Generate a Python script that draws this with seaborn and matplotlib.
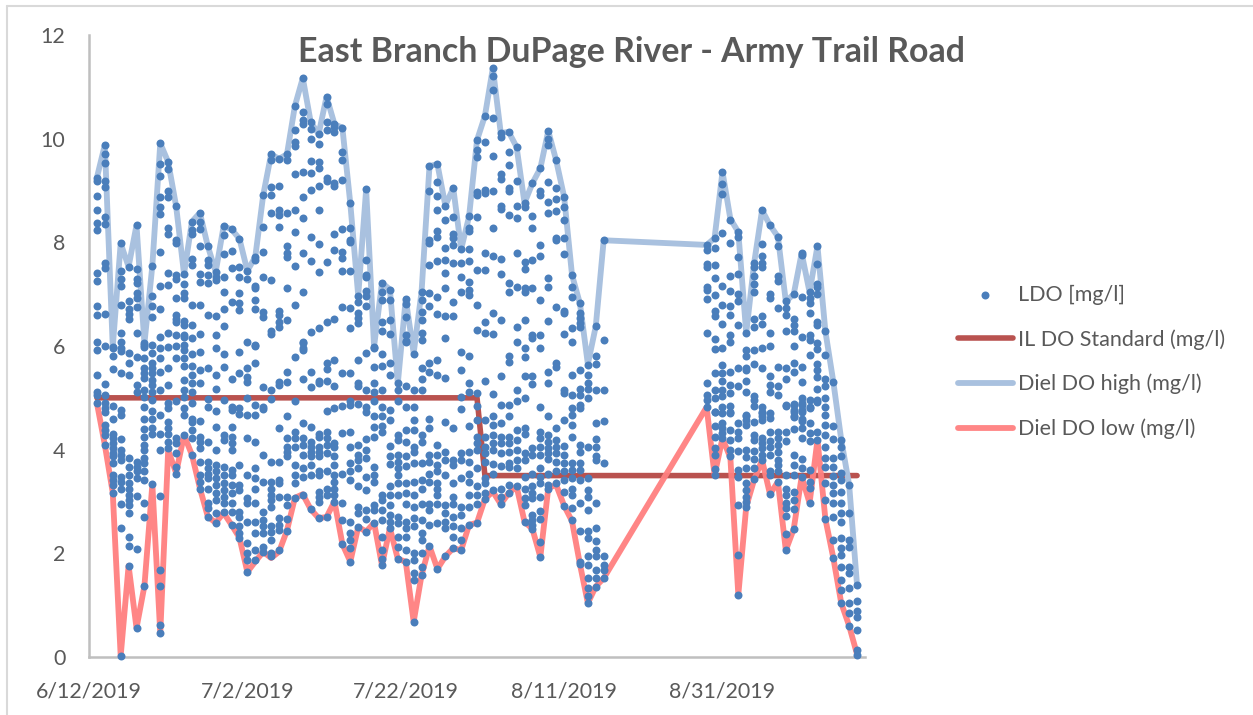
import datetime as dt

import matplotlib

matplotlib.use("Agg")
import matplotlib.dates as mdates
import matplotlib.pyplot as plt
import pandas as pd
import seaborn as sns

TITLE = "East Branch DuPage River - Army Trail Road"
START = dt.date(2019, 6, 12)
END = dt.date(2019, 9, 18)
TICK_DATES = [dt.date(2019, 6, 12), dt.date(2019, 7, 2), dt.date(2019, 7, 22), dt.date(2019, 8, 11), dt.date(2019, 8, 31)]

# days since 6/12/2019, the logger was out between 8/16 and 8/29
days = list(range(1, 66)) + list(range(78, 98))

diel_high = [
    9.25, 9.88, 5.98, 7.98, 7.53, 8.33, 6.05, 7.55, 9.91, 9.55, 8.70, 7.39, 8.40, 8.57, 7.93, 7.43, 8.31, 8.25, 8.07, 7.45,
    7.72, 8.91, 9.70, 9.61, 9.70, 10.63, 11.17, 10.32, 10.09, 10.81, 10.28, 10.21, 8.75, 6.97, 9.02, 5.99, 7.22, 7.09, 5.28, 6.91,
    5.86, 7.05, 9.47, 9.51, 8.71, 9.05, 7.87, 8.50, 9.97, 10.44, 11.36, 10.11, 10.13, 9.84, 8.76, 9.14, 9.43, 10.15, 9.58, 8.88,
    7.37, 6.82, 5.65, 6.38, 8.04,
    7.95, 8.08, 9.36, 8.45, 8.20, 6.25, 7.60, 8.62, 8.33, 8.11, 6.86, 7.00, 7.79, 7.04, 7.93, 6.28, 5.31, 4.19, 3.32, 1.38,
]
diel_low = [
    4.90, 4.09, 3.17, 0.02, 1.76, 0.56, 1.37, 3.33, 0.46, 3.99, 3.55, 4.28, 3.90, 3.26, 2.71, 2.59, 2.78, 2.55, 2.30, 1.64,
    1.84, 2.03, 1.91, 2.03, 2.44, 3.07, 3.14, 2.85, 2.68, 2.70, 3.00, 2.18, 1.84, 2.51, 2.42, 2.59, 1.77, 2.49, 1.89, 1.84,
    0.68, 1.58, 2.14, 1.70, 1.94, 2.10, 2.06, 2.55, 2.59, 3.05, 3.19, 2.95, 3.16, 3.29, 2.61, 2.47, 1.93, 3.26, 3.32, 2.92,
    2.62, 1.79, 1.04, 1.36, 1.52,
    4.82, 3.51, 4.22, 3.84, 1.20, 2.90, 3.42, 3.80, 3.14, 3.38, 2.06, 2.47, 3.48, 2.97, 4.19, 2.66, 1.91, 1.04, 0.60, 0.05,
]
standard_days = [1, 49, 50, 97]
standard_values = [5.0, 5.0, 3.5, 3.5]

# logger readings, one list per entry of days
ldo = [
    [9.25, 9.18, 8.9, 8.62, 8.37, 8.23, 7.4, 7.26, 6.78, 6.59, 6.08, 5.93, 5.44, 5.12, 5.05, 4.9],
    [9.88, 9.7, 9.54, 9.19, 9.06, 8.48, 8.36, 7.61, 7.5, 6.62, 6.0, 5.27, 5.05, 4.9, 4.8, 4.73, 4.48, 4.38, 4.28, 4.09],
    [5.99, 5.97, 5.8, 5.55, 4.84, 4.6, 4.31, 4.22, 4.12, 4.03, 3.93, 3.87, 3.74, 3.51, 3.42, 3.32, 3.17],
    [7.99, 7.44, 7.29, 7.16, 6.8, 6.26, 6.07, 5.96, 5.9, 5.47, 4.76, 4.67, 4.21, 4.0, 3.9, 3.8, 3.48, 3.38, 3.25, 2.96, 2.48, 0.02],
    [7.53, 6.86, 6.71, 6.62, 6.53, 5.86, 5.68, 5.45, 3.83, 3.66, 3.51, 3.35, 3.25, 3.13, 3.03, 2.93, 2.77, 2.32, 2.14, 1.76],
    [8.33, 7.48, 7.29, 7.21, 7.02, 6.92, 6.76, 6.26, 5.78, 5.25, 5.12, 3.77, 3.67, 3.58, 3.45, 3.11, 2.08, 0.55],
    [6.05, 5.99, 6.02, 5.76, 5.57, 5.47, 5.38, 5.15, 5.02, 4.83, 4.6, 4.39, 4.25, 4.09, 3.99, 3.83, 3.74, 3.58, 3.42, 2.97, 2.71, 1.37],
    [7.55, 6.97, 6.77, 6.55, 6.02, 5.87, 5.67, 5.57, 5.47, 5.34, 5.25, 5.12, 4.96, 4.75, 4.59, 4.41, 4.31, 3.33],
    [9.91, 9.51, 9.28, 8.87, 8.69, 8.55, 7.81, 7.15, 6.72, 6.17, 5.96, 5.76, 5.49, 5.16, 4.67, 4.31, 3.99, 3.11, 1.68, 1.37, 0.62, 0.46],
    [9.55, 9.42, 9.0, 8.88, 8.27, 8.17, 7.4, 7.18, 6.26, 5.98, 5.57, 5.25, 4.9, 4.8, 4.54, 4.41, 4.31, 4.15, 4.03],
    [8.7, 8.05, 7.98, 7.37, 7.29, 6.92, 6.6, 6.53, 6.47, 6.22, 6.0, 5.76, 4.93, 4.22, 4.12, 3.93, 3.67, 3.54],
    [7.39, 7.19, 7.03, 6.92, 6.48, 6.41, 6.22, 6.17, 6.02, 5.92, 5.76, 5.61, 5.34, 5.16, 5.01, 4.8, 4.67, 4.28],
    [8.4, 8.24, 8.16, 7.67, 7.56, 6.79, 6.41, 6.15, 5.85, 5.61, 5.44, 5.28, 5.12, 4.9, 4.6, 4.54, 4.38, 4.22, 3.9],
    [8.57, 8.4, 8.26, 7.92, 7.39, 7.24, 6.79, 6.23, 5.88, 5.54, 5.28, 4.55, 4.25, 4.15, 4.03, 3.77, 3.51, 3.38, 3.25],
    [7.93, 7.66, 7.56, 7.37, 7.22, 6.6, 5.57, 4.97, 4.83, 4.15, 3.77, 3.64, 3.54, 3.45, 3.25, 2.97, 2.87, 2.71],
    [7.43, 7.34, 7.27, 6.57, 6.21, 5.97, 5.44, 5.18, 4.75, 4.44, 3.99, 3.7, 3.58, 3.45, 3.32, 3.16, 3.03, 2.77, 2.59],
    [8.31, 8.14, 7.77, 7.33, 7.04, 6.72, 6.39, 5.84, 5.59, 4.96, 4.28, 4.19, 3.67, 3.51, 3.35, 3.22, 3.09, 2.97, 2.8],
    [8.25, 7.83, 7.5, 6.84, 5.36, 4.83, 4.77, 4.44, 4.25, 4.12, 3.99, 3.61, 3.51, 3.32, 3.16, 2.97, 2.8, 2.55],
    [8.07, 7.53, 7.33, 7.02, 6.82, 6.7, 5.88, 5.47, 4.8, 4.69, 3.7, 3.32, 3.22, 2.8, 2.71, 2.52, 2.39, 2.29],
    [7.45, 7.29, 6.08, 5.57, 5.41, 5.31, 4.99, 4.67, 4.22, 3.51, 3.06, 2.97, 2.61, 2.2, 2.0, 1.87, 1.64],
    [7.72, 7.66, 7.15, 7.11, 6.88, 6.72, 6.02, 6.0, 5.67, 4.86, 4.67, 4.15, 3.64, 3.45, 3.25, 2.97, 2.61, 2.39, 2.07, 1.87],
    [8.91, 8.3, 7.81, 7.34, 6.66, 6.56, 5.2, 4.83, 4.78, 3.9, 3.38, 2.8, 2.64, 2.52, 2.4, 2.13, 2.03],
    [9.7, 9.59, 9.06, 8.91, 8.57, 7.27, 6.28, 6.23, 5.16, 4.97, 3.77, 3.38, 3.25, 3.13, 3.03, 2.9, 2.52, 2.42, 2.26, 2.0, 1.94],
    [9.61, 9.09, 8.62, 8.53, 8.29, 6.68, 6.6, 6.47, 6.37, 5.31, 5.25, 4.41, 3.77, 3.41, 3.35, 3.09, 2.68, 2.55, 2.45, 2.07],
    [9.7, 9.59, 8.56, 7.92, 7.79, 7.71, 7.11, 6.5, 5.49, 5.31, 4.64, 4.22, 4.06, 3.96, 3.88, 3.09, 2.93, 2.66, 2.44],
    [10.63, 10.16, 9.94, 9.86, 9.32, 8.62, 8.19, 7.55, 6.79, 5.78, 4.94, 4.35, 4.22, 4.06, 3.71, 3.51, 3.35, 3.07],
    [11.17, 10.52, 10.36, 10.28, 9.36, 8.88, 8.46, 7.8, 7.05, 6.07, 5.96, 6.05, 5.92, 5.36, 4.51, 4.22, 4.09, 3.9, 3.64, 3.48, 3.13],
    [10.32, 10.19, 9.99, 9.57, 9.33, 9.01, 8.1, 7.64, 6.27, 5.49, 5.2, 4.43, 4.15, 4.06, 3.96, 3.87, 3.7, 3.51, 2.85],
    [10.09, 9.89, 9.55, 9.43, 9.09, 8.62, 7.96, 7.42, 6.34, 5.33, 5.28, 4.31, 4.25, 4.06, 3.96, 3.87, 3.58, 3.51, 3.19, 3.09, 3.0, 2.68],
    [10.81, 10.67, 10.33, 10.17, 9.24, 9.19, 7.62, 6.47, 5.68, 5.56, 5.33, 4.75, 4.35, 4.22, 4.09, 3.93, 3.58, 3.25, 3.13, 2.71],
    [10.28, 10.22, 10.12, 9.14, 9.09, 8.16, 7.85, 6.53, 5.73, 5.23, 4.81, 4.12, 4.06, 3.87, 3.7, 3.51, 3.38, 3.25, 3.13, 3.0],
    [10.21, 9.74, 9.58, 9.2, 8.26, 7.81, 7.69, 7.45, 6.76, 5.47, 4.84, 4.33, 3.54, 2.97, 2.64, 2.18],
    [8.75, 8.27, 8.05, 8.01, 7.44, 6.74, 6.34, 5.47, 4.93, 4.86, 4.35, 4.06, 3.74, 3.58, 3.42, 2.61, 2.39, 2.26, 2.1, 1.84],
    [6.97, 6.84, 6.63, 6.54, 6.44, 5.73, 5.28, 5.22, 4.88, 4.09, 3.9, 3.8, 3.64, 3.29, 2.9, 2.77, 2.51],
    [9.02, 7.66, 7.37, 7.34, 7.07, 6.97, 6.77, 5.87, 5.15, 4.83, 4.73, 4.2, 3.99, 3.83, 3.48, 3.22, 2.84, 2.67, 2.42],
    [5.99, 5.97, 5.6, 5.29, 5.12, 4.93, 4.64, 4.44, 4.25, 3.67, 3.51, 3.38, 2.93, 2.84, 2.59],
    [7.22, 7.05, 6.89, 6.46, 6.29, 5.85, 5.61, 5.16, 4.83, 4.65, 4.46, 4.35, 3.13, 3.03, 2.84, 2.64, 2.32, 2.07, 1.9, 1.77],
    [7.09, 6.89, 6.5, 6.23, 5.67, 5.44, 4.77, 4.57, 4.08, 3.88, 3.72, 3.29, 3.13, 2.93, 2.74, 2.61, 2.49],
    [5.28, 5.15, 4.93, 4.28, 4.19, 3.9, 3.77, 3.64, 3.51, 3.35, 3.13, 2.71, 2.58, 2.32, 2.13, 1.9],
    [6.91, 6.81, 6.55, 6.21, 6.09, 6.08, 5.22, 4.83, 4.38, 4.15, 3.87, 3.69, 3.35, 3.16, 2.96, 2.61, 2.48, 2.32, 2.07, 1.84],
    [5.85, 5.15, 4.83, 4.57, 4.38, 4.06, 3.96, 3.74, 3.38, 3.13, 2.9, 2.68, 2.52, 2.0, 1.87, 1.62, 1.49, 0.68],
    [7.05, 6.89, 6.66, 6.5, 6.25, 6.12, 5.57, 5.36, 5.15, 4.28, 4.15, 3.74, 3.41, 3.25, 2.96, 2.64, 2.39, 2.26, 2.0, 1.74, 1.58],
    [9.47, 8.99, 8.05, 7.99, 7.56, 7.02, 6.77, 5.68, 5.49, 4.6, 4.41, 3.9, 3.77, 3.54, 3.38, 2.96, 2.84, 2.55, 2.14],
    [9.51, 9.16, 8.9, 8.62, 8.21, 8.11, 7.64, 6.95, 6.62, 5.73, 5.44, 4.09, 3.9, 3.7, 3.58, 3.35, 3.25, 3.13, 2.96, 2.58, 1.7],
    [8.71, 8.43, 7.89, 7.66, 7.4, 7.11, 6.57, 6.16, 5.39, 4.54, 3.96, 3.8, 3.51, 2.93, 2.77, 2.61, 2.48, 1.94],
    [9.05, 8.48, 8.17, 8.08, 7.95, 7.61, 6.84, 6.57, 4.41, 3.8, 3.7, 3.35, 3.09, 2.96, 2.71, 2.52, 2.32, 2.1],
    [7.87, 7.6, 7.33, 7.05, 5.88, 5.54, 5.02, 4.78, 3.93, 3.8, 3.45, 2.9, 2.74, 2.48, 2.26, 2.06],
    [8.5, 8.27, 8.21, 7.88, 7.64, 7.23, 7.08, 6.98, 5.81, 5.28, 5.12, 4.46, 3.96, 3.77, 3.54, 3.38, 3.13, 2.9, 2.55],
    [9.97, 9.78, 9.65, 8.98, 8.91, 8.48, 7.47, 6.79, 6.31, 5.09, 4.84, 4.57, 4.25, 4.12, 3.99, 3.64, 3.29, 3.13, 2.96, 2.59],
    [10.44, 9.94, 9.01, 8.95, 7.8, 7.47, 6.46, 6.25, 5.33, 4.57, 4.25, 4.06, 3.93, 3.77, 3.45, 3.35, 3.16, 3.05],
    [11.36, 11.2, 10.93, 10.39, 9.67, 9.0, 8.27, 7.74, 6.63, 6.23, 5.07, 4.64, 4.48, 4.28, 4.12, 3.99, 3.72, 3.54, 3.22],
    [10.11, 10.04, 9.32, 9.22, 8.7, 8.65, 7.67, 7.39, 6.5, 5.43, 4.86, 4.51, 4.25, 4.12, 3.93, 3.69, 3.25, 3.09, 2.95],
    [10.13, 9.75, 9.5, 9.04, 9.0, 8.52, 7.21, 7.05, 5.81, 5.7, 4.86, 4.65, 4.25, 4.12, 3.96, 3.74, 3.67, 3.32, 3.16],
    [9.84, 9.18, 8.7, 8.46, 7.8, 7.13, 6.37, 6.08, 5.15, 4.93, 4.37, 4.19, 3.99, 3.8, 3.64, 3.29],
    [8.76, 8.69, 7.63, 7.48, 7.11, 7.05, 6.5, 5.96, 5.78, 5.43, 4.99, 4.41, 4.31, 3.93, 3.8, 3.48, 3.25, 3.06, 2.93, 2.61],
    [9.14, 8.5, 8.27, 7.66, 7.11, 6.21, 6.15, 5.43, 5.26, 4.03, 3.9, 3.54, 3.29, 3.16, 3.06, 2.74, 2.64, 2.55, 2.47],
    [9.43, 9.0, 8.91, 7.95, 7.74, 6.88, 6.21, 5.96, 4.83, 4.35, 4.22, 4.06, 3.9, 3.64, 3.48, 3.35, 3.08, 2.82, 2.66, 2.21, 1.93],
    [10.15, 10.0, 9.87, 9.17, 8.77, 8.57, 7.31, 7.13, 6.48, 5.5, 5.28, 4.65, 4.28, 4.15, 4.03, 3.93, 3.82, 3.54, 3.32, 3.25],
    [9.58, 9.04, 8.83, 8.6, 8.08, 8.05, 6.76, 5.68, 5.6, 4.41, 4.19, 4.06, 3.93, 3.77, 3.58, 3.35],
    [8.88, 8.68, 8.43, 8.08, 7.77, 6.68, 6.63, 6.23, 5.15, 5.09, 4.57, 4.08, 3.9, 3.74, 3.58, 3.41, 3.19, 2.92],
    [7.37, 7.13, 6.94, 6.34, 6.08, 5.45, 5.05, 4.8, 4.67, 4.48, 4.25, 3.74, 3.61, 3.45, 3.25, 3.13, 2.88, 2.64],
    [6.82, 6.63, 6.54, 6.44, 6.36, 5.54, 5.18, 5.05, 4.86, 4.8, 4.09, 3.96, 3.74, 3.61, 3.41, 2.97, 2.44, 1.84, 1.79],
    [5.63, 5.44, 5.28, 5.18, 4.99, 4.06, 3.45, 3.22, 3.09, 2.84, 2.44, 2.29, 1.94, 1.78, 1.52, 1.33, 1.17, 1.04],
    [6.38, 5.81, 5.65, 5.15, 4.52, 4.21, 4.06, 3.87, 3.8, 2.97, 2.48, 2.23, 2.07, 1.94, 1.68, 1.52, 1.36],
    [8.04, 6.11, 5.15, 4.55, 3.75, 1.94, 1.78, 1.68, 1.52],
    [7.95, 7.85, 7.59, 7.52, 7.14, 7.09, 6.9, 6.26, 5.29, 5.05, 4.96, 4.83],
    [8.08, 7.9, 7.56, 7.32, 6.98, 6.67, 6.58, 6.13, 5.94, 5.47, 5.15, 4.99, 4.73, 4.72, 4.45, 4.24, 4.03, 3.9, 3.62, 3.51],
    [9.36, 9.13, 8.94, 8.18, 7.16, 6.8, 6.42, 5.97, 5.63, 5.47, 5.33, 5.15, 5.03, 4.83, 4.7, 4.51, 4.41, 4.32, 4.22],
    [8.44, 7.99, 7.36, 7.07, 6.77, 6.6, 6.22, 6.07, 5.5, 5.25, 5.09, 4.84, 4.73, 4.7, 4.38, 4.19, 4.0, 3.87],
    [8.19, 8.11, 7.72, 7.38, 7.0, 6.87, 6.4, 5.57, 5.23, 4.52, 4.35, 4.22, 3.98, 3.6, 3.47, 2.93, 1.97, 1.2],
    [6.25, 5.92, 5.81, 5.57, 5.54, 5.32, 5.12, 4.64, 4.67, 4.57, 4.48, 3.99, 3.85, 3.64, 3.35, 3.22, 3.09, 3.0, 2.9],
    [7.61, 7.52, 7.35, 7.2, 7.05, 6.53, 6.37, 5.92, 5.66, 5.03, 4.96, 4.84, 4.53, 4.28, 4.19, 3.98, 3.82, 3.64, 3.43],
    [8.62, 7.97, 7.74, 7.61, 7.52, 6.57, 6.42, 5.97, 5.58, 4.83, 4.73, 4.64, 4.7, 4.57, 4.22, 4.12, 4.03, 3.9, 3.8],
    [8.33, 7.0, 6.92, 6.26, 6.0, 5.43, 5.25, 5.12, 4.7, 4.61, 4.35, 4.16, 4.06, 3.9, 3.58, 3.51, 3.15],
    [8.11, 7.93, 7.35, 7.26, 6.74, 5.59, 5.22, 5.05, 4.35, 4.22, 4.09, 3.96, 3.8, 3.71, 3.58, 3.38],
    [6.86, 6.73, 6.6, 6.28, 5.57, 5.36, 4.85, 4.86, 4.35, 4.16, 3.51, 3.25, 3.13, 2.97, 2.87, 2.72, 2.37, 2.07],
    [7.0, 6.52, 6.4, 6.28, 6.0, 5.68, 5.5, 4.86, 4.73, 4.64, 4.88, 4.77, 4.63, 4.4, 3.9, 3.71, 3.51, 3.19, 3.03, 2.85, 2.47],
    [7.79, 7.75, 6.94, 6.18, 5.6, 5.31, 4.99, 4.86, 4.73, 4.6, 4.9, 4.77, 4.56, 4.41, 4.22, 3.82, 3.64, 3.48],
    [7.04, 6.92, 6.82, 6.63, 6.21, 6.11, 5.83, 4.96, 4.81, 4.83, 4.51, 4.32, 4.16, 3.61, 3.38, 3.26, 2.97],
    [7.93, 7.59, 7.2, 7.13, 7.0, 6.47, 6.4, 6.05, 5.95, 5.66, 5.54, 5.41, 5.18, 4.96, 4.91, 4.35, 4.19],
    [6.28, 5.83, 5.37, 5.22, 4.99, 4.83, 4.67, 4.48, 4.28, 4.06, 3.83, 3.67, 3.35, 3.03, 2.66],
    [5.31, 4.45, 4.2, 3.83, 3.67, 3.49, 3.32, 3.16, 2.97, 2.71, 2.26, 1.91],
    [4.19, 4.06, 3.87, 3.55, 3.42, 3.19, 2.97, 2.77, 2.61, 2.29, 2.1, 1.97, 1.74, 1.49, 1.3, 1.04],
    [3.32, 2.77, 2.26, 2.13, 1.74, 1.62, 1.33, 1.04, 0.84, 0.6],
    [1.38, 1.08, 0.88, 0.77, 0.52, 0.14, 0.04],
]


def to_date(day):
    return pd.Timestamp(START) + pd.Timedelta(days=day)


frame = pd.DataFrame(
    [(to_date(day), value) for day, values in zip(days, ldo) for value in values],
    columns=["date", "ldo"],
)
diel = pd.DataFrame({"date": [to_date(d) for d in days], "high": diel_high, "low": diel_low})
standard = pd.DataFrame({"date": [to_date(d) for d in standard_days], "value": standard_values})

sns.set_theme(style="white")
plt.rcParams["font.family"] = ["Lato", "DejaVu Sans"]
grey = "#595959"

fig = plt.figure(figsize=(12.53, 7.15), dpi=100)
ax = fig.add_axes([89 / 1253, 1 - 657 / 715, (865 - 89) / 1253, (657 - 35) / 715])

sns.lineplot(data=standard, x="date", y="value", color="#B9524F", lw=4, ax=ax, zorder=2, label="IL DO Standard (mg/l)")
sns.lineplot(data=diel, x="date", y="high", color="#A9C1DF", lw=4.2, ax=ax, zorder=3, label="Diel DO high (mg/l)")
sns.lineplot(data=diel, x="date", y="low", color="#FF8080", lw=4.2, alpha=0.95, ax=ax, zorder=3, label="Diel DO low (mg/l)")
sns.scatterplot(data=frame, x="date", y="ldo", color="#4A7EBB", s=33, linewidth=0, ax=ax, zorder=4, label="LDO [mg/l]", clip_on=False)

ax.set_xlim(pd.Timestamp(START), pd.Timestamp(END))
ax.set_ylim(0, 12)
ax.set_xticks([pd.Timestamp(d) for d in TICK_DATES])
ax.xaxis.set_major_formatter(mdates.DateFormatter("%-m/%-d/%Y"))
ax.set_yticks(range(0, 13, 2))
ax.set_xlabel("")
ax.set_ylabel("")
ax.tick_params(axis="x", labelsize=15.4, labelcolor=grey, length=0, pad=18)
ax.tick_params(axis="y", labelsize=15.4, labelcolor=grey, length=0, pad=17)
for side in ("top", "right"):
    ax.spines[side].set_visible(False)
for side in ("left", "bottom"):
    ax.spines[side].set_color("#BFBFBF")
    ax.spines[side].set_linewidth(1.8)

fig.text(631 / 1253, 1 - 52 / 715, TITLE, ha="center", va="center", fontsize=24.4, fontweight="bold", color=grey)

handles, labels = ax.get_legend_handles_labels()
order = [labels.index(name) for name in ("LDO [mg/l]", "IL DO Standard (mg/l)", "Diel DO high (mg/l)", "Diel DO low (mg/l)")]
ax.legend(
    [handles[i] for i in order],
    [labels[i] for i in order],
    loc="center left",
    bbox_to_anchor=(958 / 1253, 1 - 362 / 715),
    bbox_transform=fig.transFigure,
    frameon=False,
    fontsize=15.5,
    labelcolor=grey,
    labelspacing=1.12,
    handlelength=2.55,
    handletextpad=0.22,
    borderpad=0,
    borderaxespad=0,
)

# chart area frame
fig.add_artist(plt.Line2D([7 / 1253, 1], [1 - 6 / 715, 1 - 6 / 715], color="#D9D9D9", lw=1.5))
fig.add_artist(plt.Line2D([7 / 1253, 7 / 1253], [1 - 6 / 715, 0], color="#D9D9D9", lw=1.5))

fig.savefig("out.png", dpi=100)
